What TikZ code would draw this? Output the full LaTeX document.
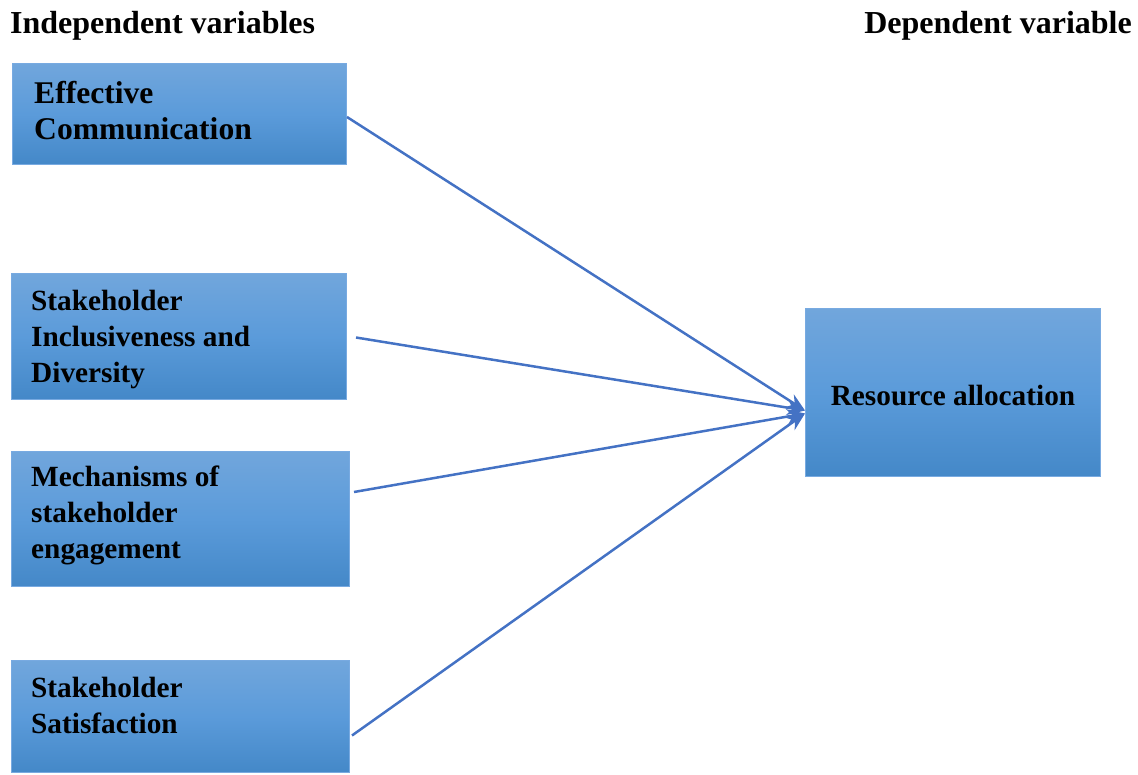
\documentclass[tikz,border=0pt]{standalone}
\usepackage{fontspec}
\setmainfont{Liberation Serif}
\usetikzlibrary{arrows.meta,calc}
\definecolor{boxtop}{RGB}{113,166,220}
\definecolor{boxmid}{RGB}{91,155,218}
\definecolor{boxbot}{RGB}{68,136,200}
\definecolor{boxedge}{RGB}{120,170,225}
\definecolor{linecol}{RGB}{68,114,196}
\begin{document}
\begin{tikzpicture}[x=1pt,y=1pt,
  box/.style={draw=boxedge,line width=1pt,top color=boxtop,bottom color=boxbot,middle color=boxmid,anchor=north west,inner sep=0pt},
  lbl/.style={font=\fontsize{29.3}{36}\selectfont\bfseries,align=left,inner sep=0pt,anchor=base west},
  title/.style={font=\fontsize{32}{36}\selectfont\bfseries,inner sep=0pt},
  conn/.style={draw=linecol,line width=2.5pt,-{Stealth[length=18,width=15,fill=linecol]}}]
\useasboundingbox (0,0) rectangle (1138,-774);
\node[title,anchor=base west] (tl) at (10,-33) {Independent variables};
\node[title,anchor=base east] (tr) at (1132,-33) {Dependent variable};
\node[box,minimum width=334,minimum height=101] (ec) at (12,-63) {};
\node[box,minimum width=335,minimum height=126] (si) at (11,-273) {};
\node[box,minimum width=338,minimum height=135] (me) at (11,-451) {};
\node[box,minimum width=338,minimum height=112] (ss) at (11,-660) {};
\node[box,minimum width=295,minimum height=168] (ra) at (805,-308) {};
\node[lbl,font=\fontsize{31.6}{36}\selectfont\bfseries] (ect) at ([xshift=22,yshift=-76]ec.north west) {Effective\\Communication};
\node[lbl] (sit) at ([xshift=20,yshift=-109]si.north west) {Stakeholder\\Inclusiveness and\\Diversity};
\node[lbl] (met) at ([xshift=20,yshift=-107]me.north west) {Mechanisms of\\stakeholder\\engagement};
\node[lbl] (sst) at ([xshift=20,yshift=-73]ss.north west) {Stakeholder\\Satisfaction};
\node[lbl,anchor=base] (rat) at ([yshift=-97]ra.north) {Resource allocation};
\coordinate (tipa) at ([yshift=-18]ra.west);
\coordinate (tipb) at ([yshift=-21]ra.west);
\draw[conn] ([yshift=-3]ec.east) -- (tipa);
\draw[conn] ([xshift=9,yshift=-1]si.east) -- (tipa);
\draw[conn] ([xshift=4,yshift=27]me.east) -- (tipb);
\draw[conn] ([xshift=2,yshift=-19]ss.east) -- (tipb);
\end{tikzpicture}
\end{document}
